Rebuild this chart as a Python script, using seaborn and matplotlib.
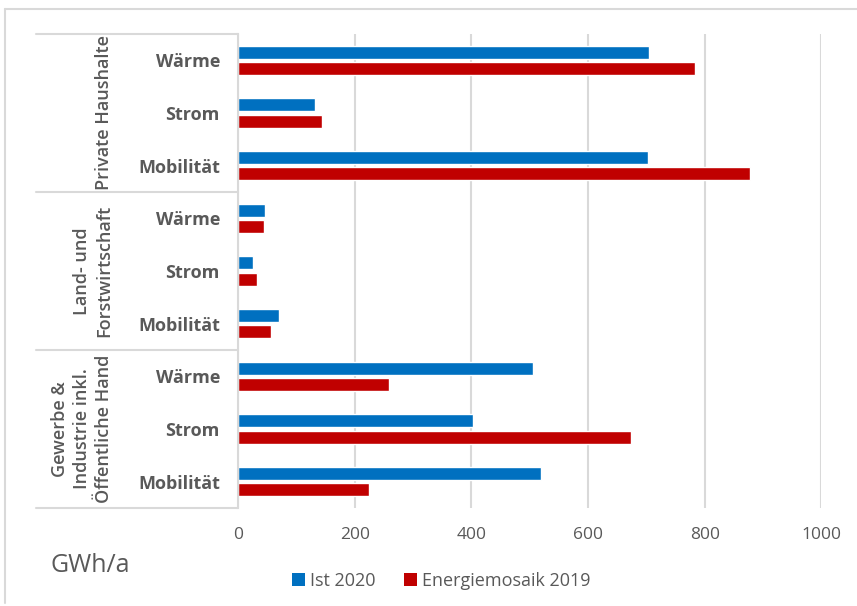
import matplotlib
matplotlib.use("Agg")
import matplotlib.pyplot as plt
from matplotlib.lines import Line2D
from matplotlib.patches import Patch
import seaborn as sns
import pandas as pd

# Energy consumption by sector and use, GWh per year
groups = ["Private Haushalte", "Land- und\nForstwirtschaft", "Gewerbe &\nIndustrie inkl.\nÖffentliche Hand"]
uses = ["Wärme", "Strom", "Mobilität"]
series = ["Ist 2020", "Energiemosaik 2019"]
ist_2020 = [705, 132, 703, 46, 26, 71, 505, 403, 519]
energiemosaik_2019 = [784, 144, 878, 45, 33, 57, 259, 674, 224]
x_ticks = [0, 200, 400, 600, 800, 1000]
unit_label = "GWh/a"

colors = {"Ist 2020": "#0070C0", "Energiemosaik 2019": "#C00000"}
text_grey = "#595959"
line_grey = "#D9D9D9"

rows = []
keys = []
for gi, g in enumerate(groups):
    for ui, u in enumerate(uses):
        key = f"{gi}-{u}"
        keys.append(key)
        idx = gi * len(uses) + ui
        rows.append({"key": key, "Serie": series[0], "Wert": ist_2020[idx]})
        rows.append({"key": key, "Serie": series[1], "Wert": energiemosaik_2019[idx]})
df = pd.DataFrame(rows)

sns.set_theme(style="white")
plt.rcParams["font.family"] = ["Open Sans", "DejaVu Sans"]

W, H = 857, 606
fig = plt.figure(figsize=(W / 100, H / 100), dpi=100)

left_px, right_px, top_px, bottom_px = 238, 821.3, 34, 508
ax = fig.add_axes([left_px / W, 1 - bottom_px / H,
                   (right_px - left_px) / W, (bottom_px - top_px) / H])

sns.barplot(data=df, y="key", x="Wert", hue="Serie", order=keys,
            hue_order=series, palette=colors, orient="h",
            width=0.625, gap=0.2, legend=False, ax=ax, saturation=1)

ax.set_xlim(0, 1000)
ax.set_xticks(x_ticks)
ax.set_xticklabels([str(t) for t in x_ticks], color=text_grey, fontsize=12.5)
ax.set_yticks(range(len(keys)))
ax.set_yticklabels([u for _ in groups for u in uses], color=text_grey,
                   fontsize=13, fontweight="bold")
ax.tick_params(axis="y", length=0, pad=13)
ax.tick_params(axis="x", length=0, pad=14)
ax.set_xlabel("")
ax.set_ylabel("")
ax.grid(axis="x", color=line_grey, linewidth=1.5)
ax.set_axisbelow(True)
for side in ["top", "right", "bottom"]:
    ax.spines[side].set_visible(False)
ax.spines["left"].set_color(line_grey)
ax.spines["left"].set_linewidth(1.5)

# Group separators and group labels in the category area
group_h = (bottom_px - top_px) / len(groups)
for gi in range(len(groups) + 1):
    y = 1 - (top_px + gi * group_h) / H
    fig.add_artist(Line2D([36 / W, left_px / W], [y, y], color=line_grey,
                          linewidth=1.5))
for gi, g in enumerate(groups):
    y = 1 - (top_px + (gi + 0.5) * group_h) / H
    fig.text(113 / W, y, g, rotation=90, ha="right", va="center",
             multialignment="center", fontsize=13, fontweight="semibold",
             color=text_grey, linespacing=1.3)

# Outer chart frame (top and left edges)
fig.add_artist(Line2D([5 / W, 1.0], [1 - 9 / H, 1 - 9 / H], color=line_grey, linewidth=1.5))
fig.add_artist(Line2D([5 / W, 5 / W], [1 - 9 / H, 1 - 603 / H], color=line_grey, linewidth=1.5))

fig.text(50 / W, 1 - 566 / H, unit_label, ha="left", va="center",
         fontsize=18, color=text_grey)

handles = [Patch(facecolor=colors[s], edgecolor="none") for s in series]
fig.legend(handles, series, loc="center", bbox_to_anchor=(441 / W, 1 - 581 / H),
           ncol=2, frameon=False, fontsize=13, labelcolor=text_grey,
           handlelength=0.75, handleheight=0.75, handletextpad=0.25,
           columnspacing=1.6)

fig.savefig("out.png", dpi=100)
